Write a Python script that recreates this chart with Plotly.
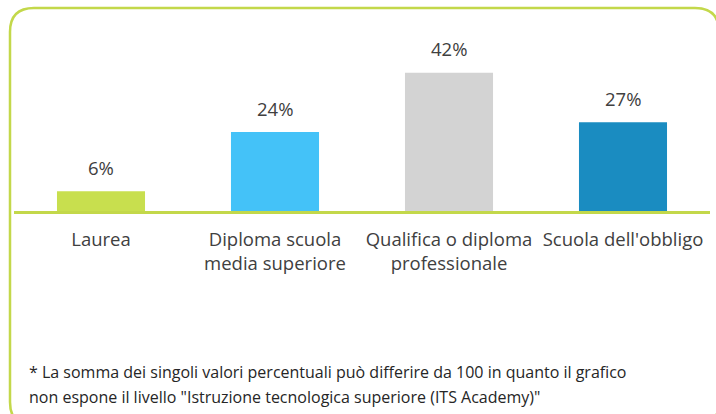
import plotly.graph_objects as go

categories = ["Laurea", "Diploma scuola<br>media superiore", "Qualifica o diploma<br>professionale", "Scuola dell'obbligo"]
values = [6, 24, 42, 27]
value_labels = ["6%", "24%", "42%", "27%"]
bar_colors = ["#c8df4e", "#44c2f8", "#d3d3d3", "#1a8cc1"]
footnote_lines = ["* La somma dei singoli valori percentuali può differire da 100 in quanto il grafico",
                  "non espone il livello \"Istruzione tecnologica superiore (ITS Academy)\""]

W, H = 716, 414
L, R = 14, 6
T = 30
BASE = 211.5
B = H - BASE
PW = W - L - R
PH = BASE - T

def px(x):
    return (x - L) / PW

def py(y):
    return (BASE - y) / PH

fig = go.Figure()
fig.add_trace(go.Bar(x=categories, y=values, marker=dict(color=bar_colors, line=dict(width=0)),
                     hoverinfo="skip"))

for c, v, t in zip(categories, values, value_labels):
    fig.add_annotation(x=c, y=v, text=t, showarrow=False, yanchor="middle", yshift=24,
                       font=dict(family="Open Sans", size=18.5, color="#404040"))

# rounded border
x0, y0, x1, y1, r = 10, 8, 719, 427, 24
path = (f"M {px(x0)},{py(y0 + r)} Q {px(x0)},{py(y0)} {px(x0 + r)},{py(y0)} "
        f"L {px(x1 - r)},{py(y0)} Q {px(x1)},{py(y0)} {px(x1)},{py(y0 + r)} "
        f"L {px(x1)},{py(y1 - r)} Q {px(x1)},{py(y1)} {px(x1 - r)},{py(y1)} "
        f"L {px(x0 + r)},{py(y1)} Q {px(x0)},{py(y1)} {px(x0)},{py(y1 - r)} Z")
fig.add_shape(type="path", path=path, xref="paper", yref="paper",
              line=dict(color="#c3d84a", width=2.5), layer="above")

for i, line in enumerate(footnote_lines):
    fig.add_annotation(x=px(27), y=py(373 + 25 * i), xref="paper", yref="paper",
                       xanchor="left", yanchor="middle", text=line, showarrow=False, align="left",
                       font=dict(family="Open Sans", size=16, color="#262626"))

fig.update_layout(
    width=W, height=H,
    margin=dict(l=L, r=R, t=T, b=B, pad=0),
    paper_bgcolor="white", plot_bgcolor="white",
    bargap=0.494, showlegend=False,
    xaxis=dict(showline=True, linecolor="#c3d84a", linewidth=2.5, ticks="", showgrid=False,
               ticklabelstandoff=10,
               tickfont=dict(family="Open Sans", size=18.5, color="#404040"), fixedrange=True),
    yaxis=dict(range=[0, 55], visible=False, fixedrange=True),
)

fig.write_html("out.html", config={"displayModeBar": False},
               post_script="document.body.style.margin='0px';document.body.style.overflow='hidden';")
